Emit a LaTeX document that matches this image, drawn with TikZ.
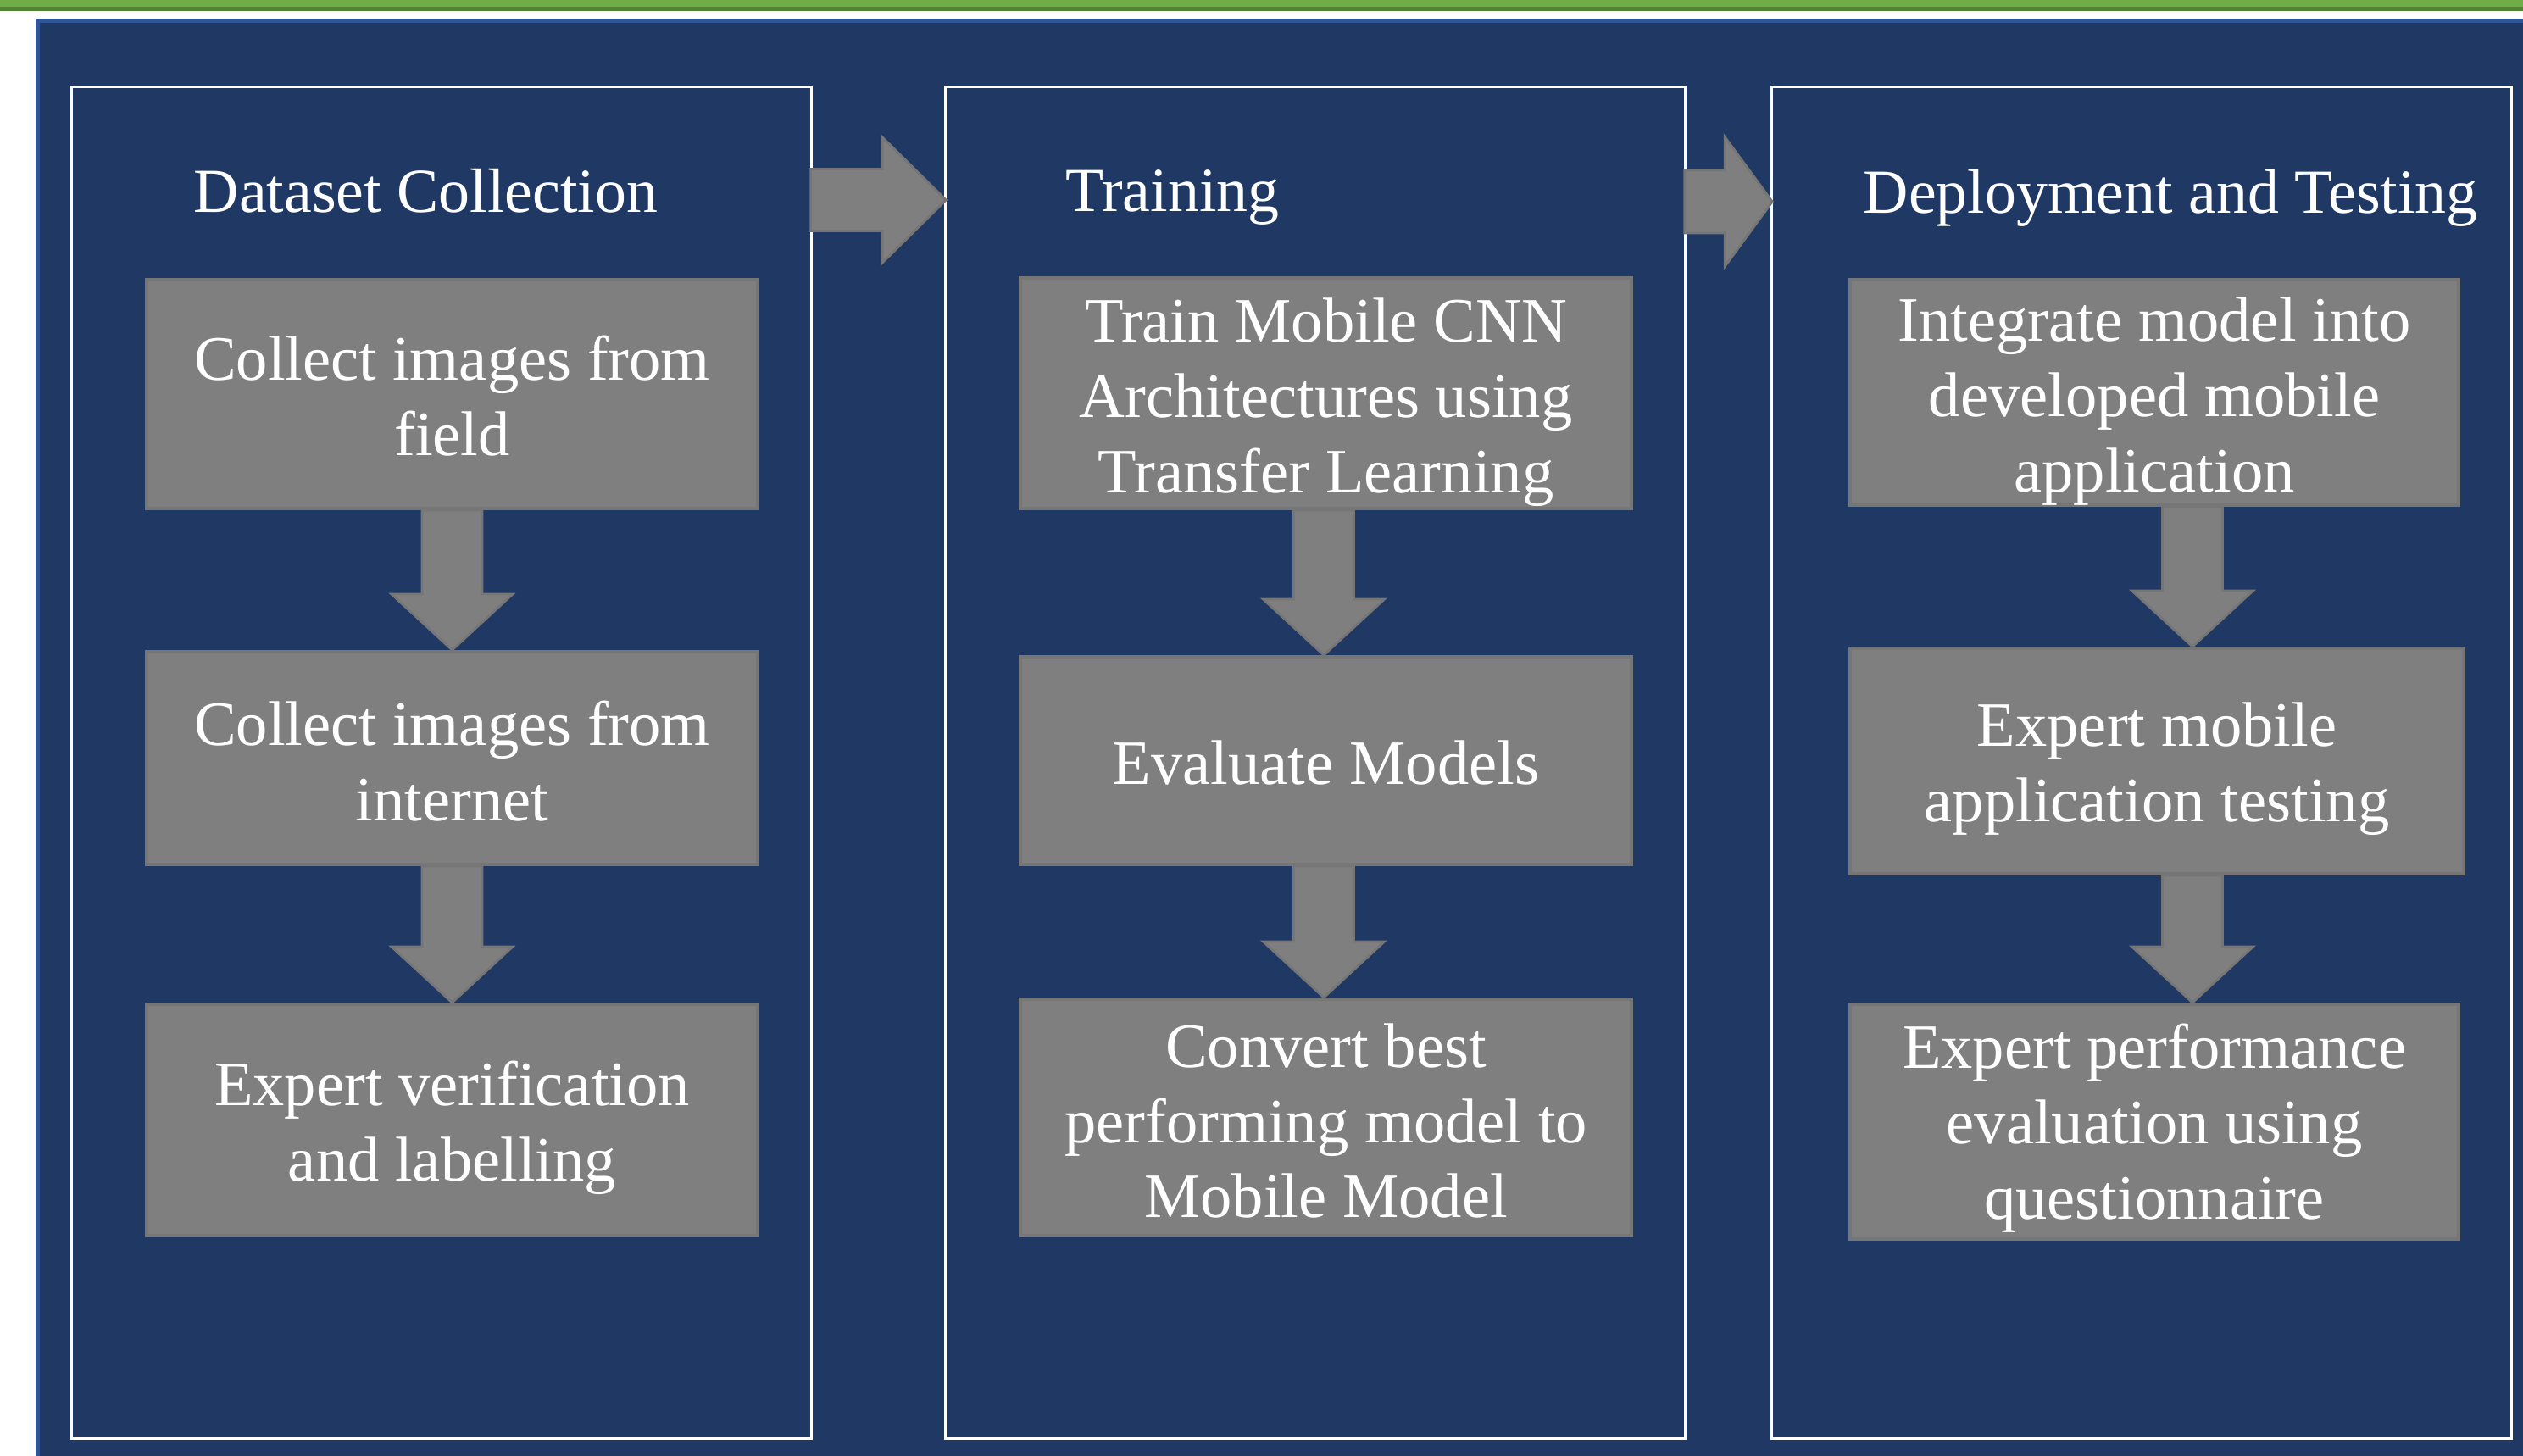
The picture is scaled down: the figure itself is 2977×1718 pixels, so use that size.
\documentclass[tikz,border=0pt]{standalone}
\usepackage{fontspec}
\setmainfont{Liberation Serif}
\usetikzlibrary{calc}
\definecolor{panelblue}{HTML}{203864}
\definecolor{paneledge}{HTML}{2F5597}
\definecolor{boxgray}{HTML}{7F7F7F}
\definecolor{boxedge}{HTML}{767676}
\definecolor{barlight}{HTML}{70AD47}
\definecolor{bardark}{HTML}{548235}

% vertical block arrow: from node #1 (south) to node #2 (north) along axis #3
\newcommand\downflow[3]{%
  \draw[flow] ($(#3 |- #1.south)+(-35.5,0)$) -- ($(#3 |- #1.south)+(35.5,0)$)
    -- ($(#3 |- #2.north)+(35.5,-66)$) -- ($(#3 |- #2.north)+(71.5,-66)$)
    -- (#3 |- #2.north)
    -- ($(#3 |- #2.north)+(-71.5,-66)$) -- ($(#3 |- #2.north)+(-35.5,-66)$) -- cycle;}
% horizontal block arrow: from frame #1 to frame #2 at height #3,
% head length #4, half shaft #5, half head #6
\newcommand\rightflow[6]{%
  \draw[flow] ($(#1.east |- #3)+(-2,-#5)$) -- ($(#2.west |- #3)+(-#4,-#5)$)
    -- ($(#2.west |- #3)+(-#4,-#6)$) -- ($(#2.west |- #3)+(2,0)$)
    -- ($(#2.west |- #3)+(-#4,#6)$) -- ($(#2.west |- #3)+(-#4,#5)$)
    -- ($(#1.east |- #3)+(-2,#5)$) -- cycle;}

\begin{document}
\begin{tikzpicture}[x=0.01cm,y=-0.01cm,
  frame/.style={draw=white, line width=0.9pt, minimum width=87.2mm,
    minimum height=159.4mm, inner sep=0},
  stepbox/.style={fill=boxgray, draw=boxedge, line width=1.1pt, inner sep=0},
  steptext/.style={text=white, align=center, inner sep=0,
    font=\fontsize{21.2}{25.3}\selectfont},
  title/.style={text=white, anchor=base west, inner sep=0,
    font=\fontsize{21}{25}\selectfont},
  flow/.style={fill=boxgray, draw=boxedge, line width=0.8pt, line join=miter}]

\useasboundingbox (0,0) rectangle (2977,1718);

% page background, top rule and panel
\fill[white] (0,0) rectangle (2977,1718);
\fill[barlight] (0,0) rectangle (2977,8);
\fill[bardark] (0,8) rectangle (2977,13);
\fill[paneledge] (42,22) rectangle (2977,1718);
\fill[panelblue] (47,27) rectangle (2977,1718);

% phase frames
\node[frame] (f1) at (521,900) {};
\node[frame] (f2) at (1552,900) {};
\node[frame] (f3) at (2527,900) {};

% phase titles
\node[title] (t1) at (228,250) {Dataset Collection};
\node[title] (t2) at (1257,249) {Training};
\node[title] (t3) at (2198,251) {Deployment and Testing};

% arrow axes
\coordinate (ax1) at (533.5,0);
\coordinate (ax2) at (1562,0);
\coordinate (ax3) at (2587,0);
\coordinate (ry1) at (0,236);
\coordinate (ry2) at (0,238);

% flow between phases
\rightflow{f1}{f2}{ry1}{73}{36.5}{74}
\rightflow{f2}{f3}{ry2}{54}{37}{76.5}

% step boxes
\path
  (533.5,465)    node[stepbox, minimum width=72.1mm, minimum height=27mm]   (a1) {}
  (533.5,894.5)  node[stepbox, minimum width=72.1mm, minimum height=25.1mm] (b1) {}
  (533.5,1321.5) node[stepbox, minimum width=72.1mm, minimum height=27.3mm] (c1) {}
  (1564.5,464)   node[stepbox, minimum width=72.1mm, minimum height=27.2mm] (a2) {}
  (1564.5,897.5) node[stepbox, minimum width=72.1mm, minimum height=24.5mm] (b2) {}
  (1564.5,1318.5) node[stepbox, minimum width=72.1mm, minimum height=27.9mm] (c2) {}
  (2542,463)     node[stepbox, minimum width=71.8mm, minimum height=26.6mm] (a3) {}
  (2545,898)     node[stepbox, minimum width=72.4mm, minimum height=26.6mm] (b3) {}
  (2542,1323.5)  node[stepbox, minimum width=71.8mm, minimum height=27.7mm] (c3) {};

% step labels
\node[steptext] (a1t) at ($(a1)+(0,2)$)  {Collect images from\\field};
\node[steptext] (b1t) at ($(b1)+(0,4)$)  {Collect images from\\internet};
\node[steptext] (c1t) at ($(c1)+(0,9)$)  {Expert verification\\and labelling};
\node[steptext] (a2t) at ($(a2)+(0,11)$) {Train Mobile CNN\\Architectures using\\Transfer Learning};
\node[steptext] (b2t) at ($(b2)+(0,2)$)  {Evaluate Models};
\node[steptext] (c2t) at ($(c2)+(0,4)$)  {Convert best\\performing model to\\Mobile Model};
\node[steptext] (a3t) at ($(a3)+(0,11)$) {Integrate model into\\developed mobile\\application};
\node[steptext] (b3t) at ($(b3)+(0,9)$)  {Expert mobile\\application testing};
\node[steptext] (c3t) at ($(c3)+(0,8)$)  {Expert performance\\evaluation using\\questionnaire};

% flow within phases
\downflow{a1}{b1}{ax1}
\downflow{b1}{c1}{ax1}
\downflow{a2}{b2}{ax2}
\downflow{b2}{c2}{ax2}
\downflow{a3}{b3}{ax3}
\downflow{b3}{c3}{ax3}

\end{tikzpicture}
\end{document}
